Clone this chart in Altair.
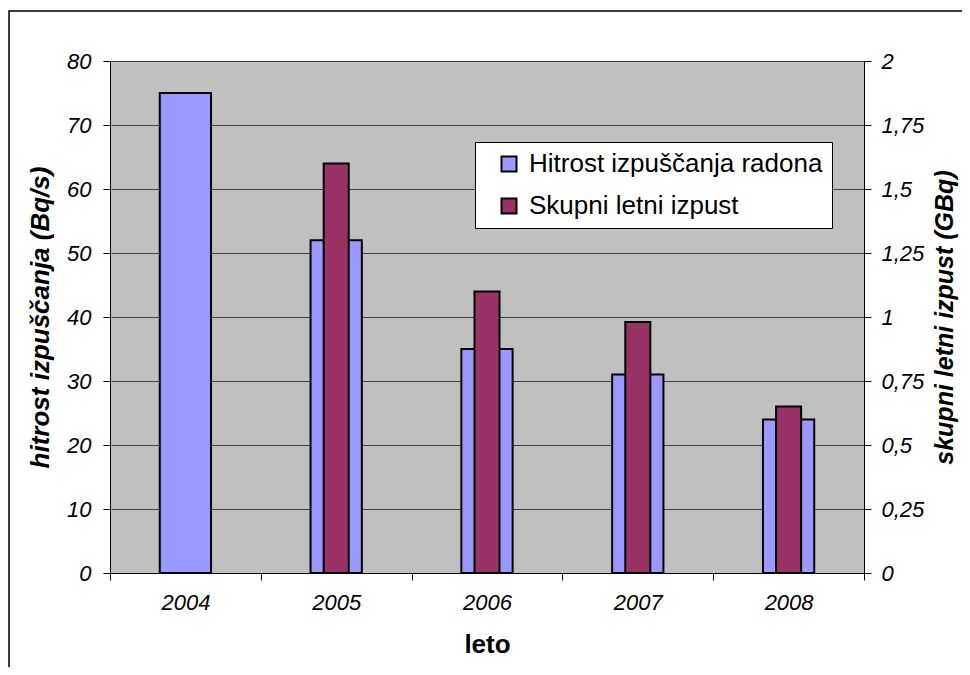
import altair as alt
import pandas as pd

years = ["2004", "2005", "2006", "2007", "2008"]
hitrost = [75, 52, 35, 31, 24]
skupni = [None, 1.6, 1.1, 0.98, 0.65]
series_names = ["Hitrost izpuščanja radona", "Skupni letni izpust"]
colors = ["#9999FF", "#993366"]
left_ticks = [0, 10, 20, 30, 40, 50, 60, 70, 80]
right_ticks = [0, 0.25, 0.5, 0.75, 1, 1.25, 1.5, 1.75, 2]

df_h = pd.DataFrame({"leto": years, "hitrost": hitrost, "serija": series_names[0]})
df_s = pd.DataFrame({"leto": years, "izpust": skupni, "serija": series_names[1]}).dropna()

FONT = "Liberation Sans"

x = alt.X(
    "leto:N",
    title="leto",
    sort=years,
    scale=alt.Scale(paddingInner=0, paddingOuter=0),
    axis=alt.Axis(
        labelAngle=0,
        labelFontStyle="italic",
        labelFontSize=22,
        tickBand="extent",
        tickSize=7,
        labelPadding=12,
        titleFontSize=26,
        titleFontWeight="bold",
        titlePadding=18,
        grid=False,
    ),
)

legend = alt.Legend(
    title=None,
    orient="none",
    legendX=365,
    legendY=81,
    padding=9,
    fillColor="white",
    strokeColor="black",
    symbolType="square",
    symbolSize=225,
    symbolStrokeColor="black",
    symbolStrokeWidth=2,
    symbolOffset=12,
    labelFontSize=26,
    labelFont=FONT,
    labelColor="black",
    labelOffset=7,
    labelLimit=600,
    rowPadding=16,
    labelExpr="datum.label + '\u00a0\u00a0\u00a0'",
)

color = alt.Color(
    "serija:N",
    scale=alt.Scale(domain=series_names, range=colors),
    legend=legend,
)

blue = alt.Chart(df_h).mark_bar(
    stroke="black", strokeWidth=2, width=alt.RelativeBandSize(0.34)
).encode(
    x=x,
    y=alt.Y(
        "hitrost:Q",
        title="hitrost izpuščanja (Bq/s)",
        scale=alt.Scale(domain=[0, 80], nice=False),
        axis=alt.Axis(
            orient="left",
            values=left_ticks,
            labelFontStyle="italic",
            labelFontSize=22,
            tickSize=7,
            labelPadding=12,
            titleFontSize=26,
            titleFontWeight="bold",
            titleFontStyle="italic",
            titlePadding=13,
            grid=True,
            gridColor="#404040",
            gridWidth=1,
        ),
    ),
    color=color,
)

maroon = alt.Chart(df_s).mark_bar(
    stroke="black", strokeWidth=2, width=alt.RelativeBandSize(0.166)
).encode(
    x=x,
    y=alt.Y(
        "izpust:Q",
        title="skupni letni izpust (GBq)",
        scale=alt.Scale(domain=[0, 2], nice=False),
        axis=alt.Axis(
            orient="right",
            values=right_ticks,
            labelExpr="replace(format(datum.value, '~g'), '.', ',')",
            labelFontStyle="italic",
            labelFontSize=22,
            tickSize=7,
            labelPadding=10,
            titleFontSize=25,
            titleFontWeight="bold",
            titleFontStyle="italic",
            titleAngle=270,
            titleBaseline="top",
            titlePadding=9,
            grid=False,
        ),
    ),
    color=color,
)

frame = alt.Chart(alt.Data(values=[{}])).mark_rect(
    fillOpacity=0, stroke="black", strokeWidth=1.5
).encode(
    x=alt.value(-101),
    x2=alt.value(1200),
    y=alt.value(-50),
    y2=alt.value(1200),
)

chart = (
    alt.layer(blue, maroon, frame)
    .resolve_scale(y="independent")
    .properties(
        width=754,
        height=512,
        padding={"left": 102, "top": 53, "right": 98, "bottom": 94},
        autosize="none",
        background="white",
    )
    .configure_view(fill="#C0C0C0", stroke="transparent")
    .configure_axis(
        labelFont=FONT,
        titleFont=FONT,
        labelColor="black",
        titleColor="black",
        domainColor="black",
        tickColor="black",
        domainWidth=1,
        tickWidth=1,
    )
)

chart.save("out.html", embed_options={"renderer": "svg", "actions": False})
